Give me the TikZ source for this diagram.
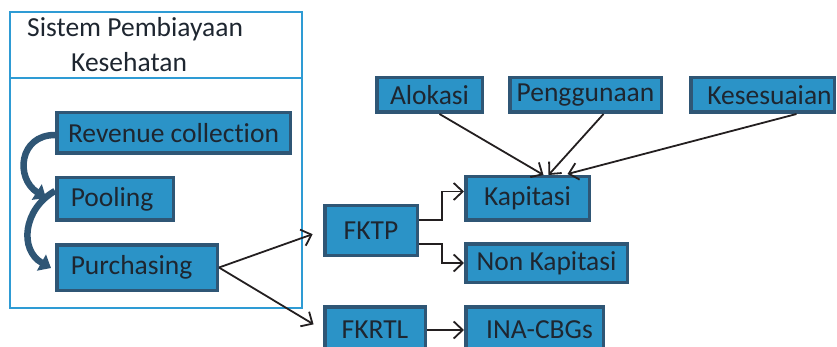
\documentclass[tikz,border=0pt]{standalone}
\usepackage{fontspec}
\setmainfont{Carlito}[Ligatures=NoCommon]
\usetikzlibrary{arrows.meta}
\definecolor{boxfill}{HTML}{2B93C7}
\definecolor{boxline}{HTML}{2F5675}
\definecolor{framecol}{HTML}{2E9BD4}
\definecolor{txt}{HTML}{1E2630}
\definecolor{arrcol}{HTML}{231F20}
\tikzset{
  bx/.style={draw=boxline, fill=boxfill, line width=3.5pt, inner sep=0pt, text=txt,
    font=\fontsize{27.5}{32}\selectfont},
  lbx/.style={bx, align=left, inner xsep=14pt, text width=#1},
  arr/.style={draw=arrcol, line width=1.8pt, -{Straight Barb[length=9pt,width=17pt,line width=1.8pt]}},
  bigarr/.style={draw=boxline, line width=6.5pt, -{Triangle[length=11pt,width=18pt]}},
  ttl/.style={anchor=base west, inner sep=0pt, text=txt, font=\fontsize{27.5}{32}\selectfont},
}
\begin{document}
\begin{tikzpicture}[x=1pt,y=-1pt]
\useasboundingbox (0,0) rectangle (837,347);
% frame
\draw[framecol, line width=1.6pt] (10,12) rectangle (302,308);
\draw[framecol, line width=1.6pt] (10,78) -- (302,78);
\node[ttl] (t1) at (27,37) {Sistem Pembiayaan};
\node[ttl] (t2) at (71,72) {Kesehatan};
% left boxes
\node[bx, minimum width=233.5pt, minimum height=40.5pt] (rev) at (173.5,133) {Revenue collection};
\node[lbx=88.5pt, minimum height=42.5pt] (pool) at (115,199) {Pooling};
\node[lbx=132.5pt, minimum height=45.5pt] (purch) at (137,267.5) {Purchasing};
% curved arrows
\draw[bigarr] ([yshift=-2pt]rev.west) .. controls (19,135) and (15,178) .. (46,198);
\draw[bigarr] ([yshift=8pt]pool.west) .. controls (23,209) and (19,250) .. (51,268);
% right boxes
\node[bx, minimum width=92.5pt, minimum height=49.5pt] (fktp) at (371,230.5) {FKTP};
\node[bx, minimum width=100.5pt, minimum height=46pt] (fkrtl) at (375,330) {FKRTL};
\node[bx, minimum width=123.5pt, minimum height=43.5pt] (kap) at (527.5,198.5) {Kapitasi};
\node[bx, minimum width=161.5pt, minimum height=38.5pt] (nonkap) at (546.5,263) {Non Kapitasi};
\node[bx, minimum width=137.5pt, minimum height=46pt] (ina) at (534.5,330) {\hspace{10pt}INA-CBGs};
\node[bx, minimum width=105.5pt, minimum height=34.5pt] (alo) at (429.5,95) {Alokasi};
\node[bx, minimum width=151.5pt, minimum height=34.5pt] (peng) at (585.5,95) {Penggunaan};
\node[bx, minimum width=143.5pt, minimum height=34.5pt] (kes) at (762.5,95) {\hspace{14pt}Kesesuaian};
% connectors
\draw[arr, shorten >=11pt] (purch.east) -- (fktp.west);
\draw[arr, shorten >=11pt] (purch.east) -- (fkrtl.west);
\coordinate (e1) at (442,220);
\coordinate (e2) at (442,244);
\draw[arr] (fktp.east |- e1) -- (e1) |- ([yshift=7pt]kap.west);
\draw[arr] (fktp.east |- e2) -- (e2) |- (nonkap.west);
\draw[arr] (fkrtl.east) -- (ina.west);
\draw[arr] ([xshift=10pt]alo.south) -- ([xshift=16pt]kap.north);
\draw[arr] ([xshift=18pt]peng.south) -- ([xshift=21pt]kap.north);
\draw[arr] ([xshift=34pt]kes.south) -- ([xshift=40pt,yshift=1pt]kap.north);
\end{tikzpicture}
\end{document}
